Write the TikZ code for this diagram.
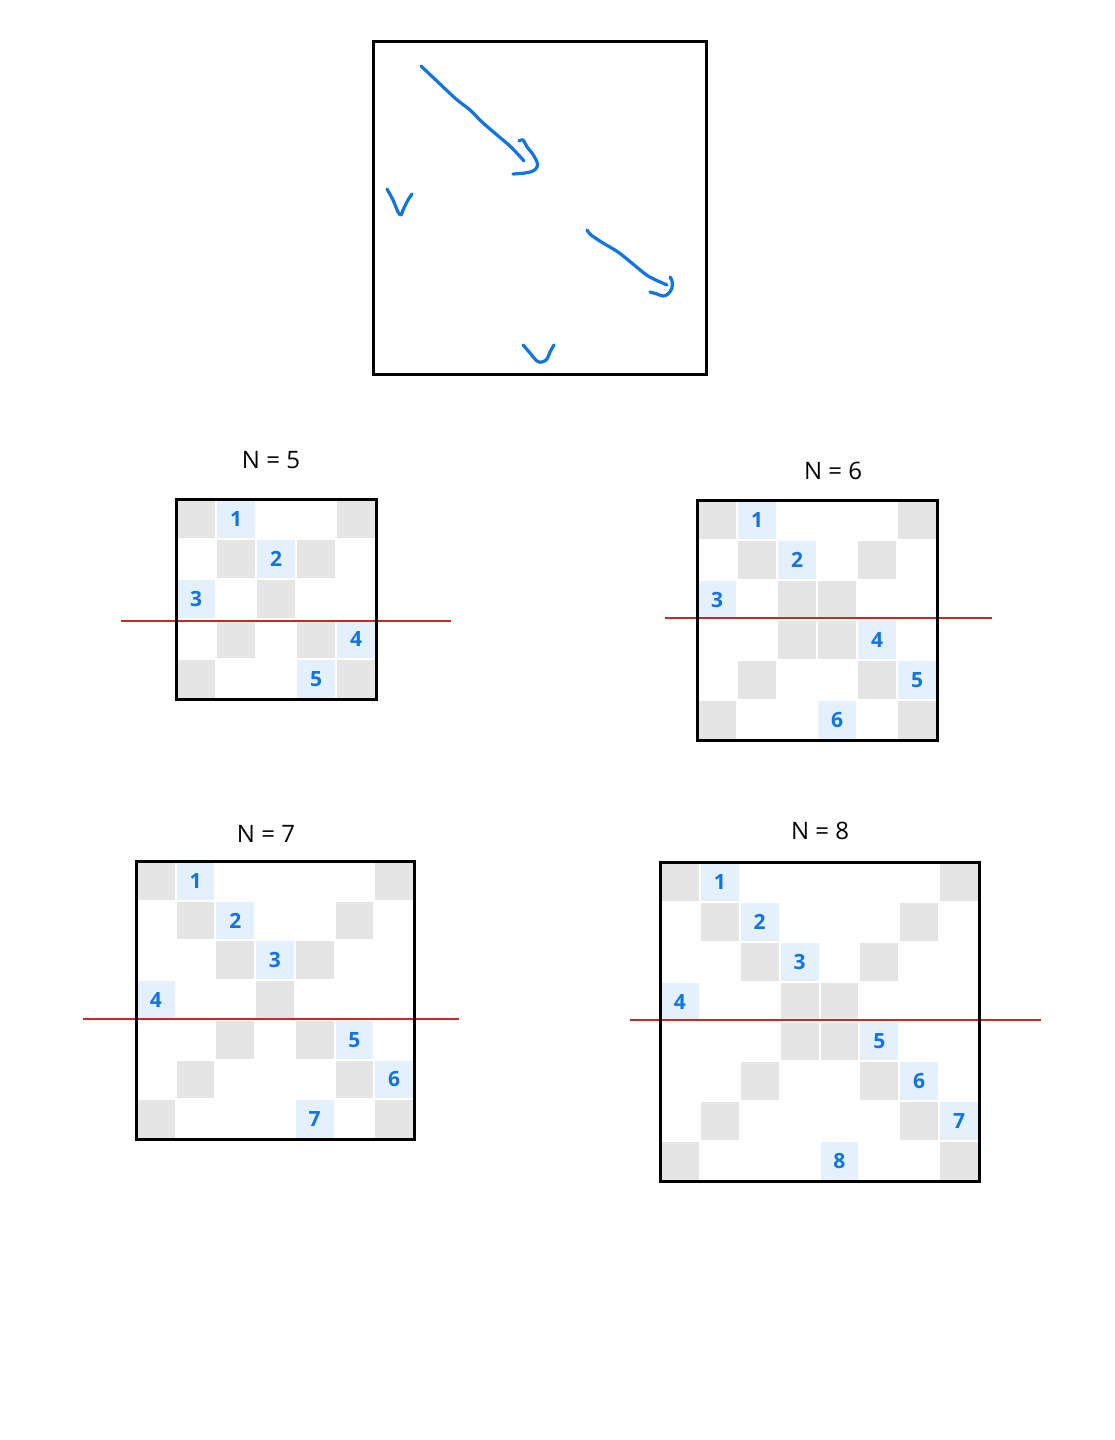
\documentclass[tikz,border=0pt]{standalone}
\usepackage{fontspec}
\setmainfont{Open Sans}
\definecolor{grayc}{RGB}{229,229,229}
\definecolor{bluec}{RGB}{228,240,252}
\definecolor{ink}{RGB}{16,116,228}
\definecolor{redl}{RGB}{200,40,40}
\tikzset{
  frame/.style={line width=3pt,line join=miter},
  cut/.style={redl,line width=1.2pt},
  stroke/.style={ink,line width=3.2pt,line cap=round,line join=round},
  dig/.style={text=ink,font=\fontsize{21}{21}\selectfont\bfseries,inner sep=0pt},
  lab/.style={font=\fontsize{24}{24}\selectfont,inner sep=0pt}
}
\begin{document}
\begin{tikzpicture}[x=1pt,y=-1pt]
\useasboundingbox[fill=white] (0,0) rectangle (1115,1440);

% top box
\draw[frame] (373,41) rectangle (706,374);
\draw[stroke] plot[smooth,tension=0.5] coordinates {(421,66) (440,84) (456,99) (470,110) (482,122) (497,135) (511,147) (524,161)};
\draw[stroke] plot[smooth,tension=0.6] coordinates {(519,141) (523,140) (527,147) (532,153) (537,162) (537,167) (533,171) (525,173) (513,174)};
\draw[stroke] plot[smooth,tension=0.5] coordinates {(587,230) (591,235) (603,243) (618,252) (633,264) (648,276) (667,285)};
\draw[stroke] plot[smooth,tension=0.6] coordinates {(670,277) (672,281) (672,288) (668,294) (663,296) (657,294) (650,292)};
\draw[stroke] plot[smooth,tension=0.5] coordinates {(387,189) (393,200) (398,212) (401,215) (403,210) (408,200) (412,194)};
\draw[stroke] plot[smooth,tension=0.6] coordinates {(523,345) (530,353) (537,361) (542,362) (547,359) (550,352) (554,345)};

% N = 5
\node[lab] (la) at (271,460) {N = 5};
\begin{scope}[shift={(176,499)}]
\def\s{40}
\foreach \r/\c in {0/0,0/4,1/1,1/3,2/2,3/1,3/3,4/0,4/4}
  \fill[grayc] ({\c*\s+1},{\r*\s+1}) rectangle ({(\c+1)*\s-1},{(\r+1)*\s-1});
\foreach \r/\c/\n in {0/1/1,1/2/2,2/0/3,3/4/4,4/3/5}{
  \fill[bluec] ({\c*\s+1},{\r*\s+1}) rectangle ({(\c+1)*\s-1},{(\r+1)*\s-1});
  \node[dig] (a\n) at ({(\c+0.5)*\s},{(\r+0.5)*\s}) {\n};}
\coordinate (a-l) at (-55,122); \coordinate (a-r) at (275,122);
\draw[cut] (a-l) -- (a-r);
\draw[frame] (0,0) rectangle (200,200);
\end{scope}

% N = 6
\node[lab] (lb) at (833,471) {N = 6};
\begin{scope}[shift={(697,500)}]
\def\s{40}
\foreach \r/\c in {0/0,0/5,1/1,1/4,2/2,2/3,3/2,3/3,4/1,4/4,5/0,5/5}
  \fill[grayc] ({\c*\s+1},{\r*\s+1}) rectangle ({(\c+1)*\s-1},{(\r+1)*\s-1});
\foreach \r/\c/\n in {0/1/1,1/2/2,2/0/3,3/4/4,4/5/5,5/3/6}{
  \fill[bluec] ({\c*\s+1},{\r*\s+1}) rectangle ({(\c+1)*\s-1},{(\r+1)*\s-1});
  \node[dig] (b\n) at ({(\c+0.5)*\s},{(\r+0.5)*\s}) {\n};}
\coordinate (b-l) at (-32,118); \coordinate (b-r) at (295,118);
\draw[cut] (b-l) -- (b-r);
\draw[frame] (0,0) rectangle (240,240);
\end{scope}

% N = 7
\node[lab] (lc) at (266,834) {N = 7};
\begin{scope}[shift={(136,861)}]
\def\s{39.71}
\foreach \r/\c in {0/0,0/6,1/1,1/5,2/2,2/4,3/3,4/2,4/4,5/1,5/5,6/0,6/6}
  \fill[grayc] ({\c*\s+1},{\r*\s+1}) rectangle ({(\c+1)*\s-1},{(\r+1)*\s-1});
\foreach \r/\c/\n in {0/1/1,1/2/2,2/3/3,3/0/4,4/5/5,5/6/6,6/4/7}{
  \fill[bluec] ({\c*\s+1},{\r*\s+1}) rectangle ({(\c+1)*\s-1},{(\r+1)*\s-1});
  \node[dig] (c\n) at ({(\c+0.5)*\s},{(\r+0.5)*\s}) {\n};}
\coordinate (c-l) at (-53,158); \coordinate (c-r) at (323,158);
\draw[cut] (c-l) -- (c-r);
\draw[frame] (0,0) rectangle (278,278);
\end{scope}

% N = 8
\node[lab] (ld) at (820,831) {N = 8};
\begin{scope}[shift={(660,862)}]
\def\s{39.875}
\foreach \r/\c in {0/0,0/7,1/1,1/6,2/2,2/5,3/3,3/4,4/3,4/4,5/2,5/5,6/1,6/6,7/0,7/7}
  \fill[grayc] ({\c*\s+1},{\r*\s+1}) rectangle ({(\c+1)*\s-1},{(\r+1)*\s-1});
\foreach \r/\c/\n in {0/1/1,1/2/2,2/3/3,3/0/4,4/5/5,5/6/6,6/7/7,7/4/8}{
  \fill[bluec] ({\c*\s+1},{\r*\s+1}) rectangle ({(\c+1)*\s-1},{(\r+1)*\s-1});
  \node[dig] (d\n) at ({(\c+0.5)*\s},{(\r+0.5)*\s}) {\n};}
\coordinate (d-l) at (-30,158); \coordinate (d-r) at (381,158);
\draw[cut] (d-l) -- (d-r);
\draw[frame] (0,0) rectangle (319,319);
\end{scope}
\end{tikzpicture}
\end{document}
